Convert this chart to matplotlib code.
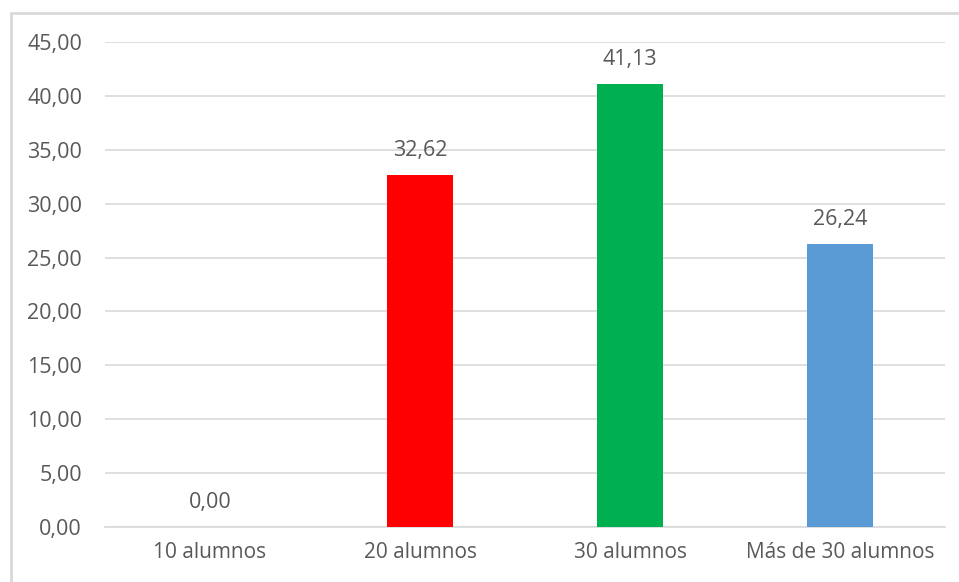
import matplotlib.pyplot as plt
from matplotlib.patches import Rectangle

categorias = ["10 alumnos", "20 alumnos", "30 alumnos", "Más de 30 alumnos"]
valores = [0.00, 32.62, 41.13, 26.24]
colores = ["#5B9BD5", "#FF0000", "#00B050", "#5B9BD5"]

plt.rcParams["font.family"] = ["Open Sans", "DejaVu Sans"]
texto = "#595959"

fig = plt.figure(figsize=(9.59, 5.82), dpi=100)
fig.patches.append(Rectangle((11 / 959, -0.1), 1.2, 1 - 12.5 / 582 + 0.1,
                             transform=fig.transFigure, fill=False,
                             edgecolor="#D9D9D9", linewidth=2))
ax = fig.add_axes([105 / 959, 1 - 527 / 582, 840 / 959, 485 / 582])

x = range(len(categorias))
ax.bar(x, valores, width=0.314, color=colores, zorder=3)
for xi, v in zip(x, valores):
    ax.text(xi, v + 1.3, f"{v:.2f}".replace(".", ","), ha="center", va="bottom",
            fontsize=15.5, color=texto)

ax.set_xlim(-0.5, 3.5)
ax.set_ylim(0, 45)
ax.set_yticks(range(0, 46, 5))
ax.set_yticklabels([f"{t:.2f}".replace(".", ",") for t in range(0, 46, 5)])
ax.set_xticks(list(x))
ax.set_xticklabels(categorias)
ax.tick_params(axis="both", length=0, labelcolor=texto)
ax.tick_params(axis="y", pad=16.5, labelsize=15.5)
ax.tick_params(axis="x", pad=11, labelsize=15)
ax.grid(axis="y", color="#D9D9D9", linewidth=1.2, zorder=0)
for s in ["top", "right", "left"]:
    ax.spines[s].set_visible(False)
ax.spines["bottom"].set_color("#D9D9D9")
ax.spines["bottom"].set_linewidth(1.2)

fig.savefig("out.png", dpi=100)
